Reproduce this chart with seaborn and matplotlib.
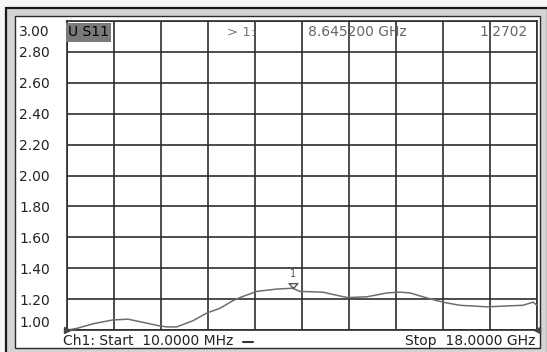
import numpy as np
import pandas as pd
import matplotlib
matplotlib.use("Agg")
import matplotlib.pyplot as plt
from matplotlib.patches import Rectangle
from matplotlib.lines import Line2D
from matplotlib.transforms import ScaledTranslation
import seaborn as sns

# ---- data ----
freq_ghz = [0.01, 0.38, 1.00, 1.76, 2.34, 2.91, 3.45, 3.83, 4.21, 4.83, 5.36, 5.86,
            6.36, 6.63, 7.28, 8.04, 8.645, 8.92, 9.80, 10.46, 10.76, 11.49, 12.26,
            12.75, 13.14, 13.63, 14.17, 14.55, 15.05, 16.09, 17.46, 17.85, 18.0]
s11_vswr = [1.00, 1.01, 1.04, 1.065, 1.07, 1.05, 1.03, 1.02, 1.02, 1.06, 1.11, 1.14,
            1.19, 1.21, 1.25, 1.265, 1.2702, 1.25, 1.245, 1.22, 1.21, 1.215, 1.24,
            1.245, 1.24, 1.215, 1.19, 1.175, 1.16, 1.15, 1.16, 1.18, 1.16]
y_ticks = [1.00, 1.20, 1.40, 1.60, 1.80, 2.00, 2.20, 2.40, 2.60, 2.80, 3.00]
y_tick_labels = ["1.00", "1.20", "1.40", "1.60", "1.80", "2.00", "2.20", "2.40",
                 "2.60", "2.80", "3.00"]
start_freq = 0.01   # GHz
stop_freq = 18.0    # GHz
marker_freq = 8.6452
marker_val = 1.2702
trace_name = "U S11"

df = pd.DataFrame({"freq": freq_ghz, "vswr": s11_vswr})

W, H = 547, 352
sns.set_theme(style="white")
plt.rcParams['font.family'] = ['DejaVu Sans']
fig = plt.figure(figsize=(W / 100, H / 100), dpi=100)
fig.patch.set_facecolor("#f6f6f6")

def fr(x0, y0, x1, y1):
    return (x0 / W, 1 - y1 / H, (x1 - x0) / W, (y1 - y0) / H)

# window frame
bx, by, bw, bh = fr(6, 8, 548, 356)
fig.patches.append(Rectangle((bx, by), bw, bh, transform=fig.transFigure,
                             facecolor="#d4d4d4", edgecolor="#1a1a1a", linewidth=1.6, zorder=-2))
bx, by, bw, bh = fr(15, 16, 540, 348)
fig.patches.append(Rectangle((bx, by), bw, bh, transform=fig.transFigure,
                             facecolor="white", edgecolor="#2a2a2a", linewidth=1.0, zorder=-1))

ax = fig.add_axes([67 / W, 1 - 330 / H, 470 / W, 309 / H])
ax.set_zorder(5)
ax.set_facecolor("white")

sns.lineplot(data=df, x="freq", y="vswr", ax=ax, color="#6e6e6e", linewidth=1.1,
             estimator=None, sort=False, legend=False, zorder=3)

ax.set_xlim(start_freq, stop_freq)
ax.set_ylim(1.0, 3.0)
ax.set_xticks(np.linspace(start_freq, stop_freq, 11))
ax.set_xticklabels([])
ax.set_yticks(y_ticks, y_tick_labels)
ax.set_xlabel("")
ax.set_ylabel("")
ax.grid(True, color="#2e2e2e", linewidth=1.2)
for sp in ax.spines.values():
    sp.set_color("#2e2e2e")
    sp.set_linewidth(1.2)
ax.tick_params(axis="both", length=0)
ax.tick_params(axis="y", pad=(67 - 19) * 0.72, labelsize=10, labelcolor="#222222")
for lab in ax.get_yticklabels():
    lab.set_horizontalalignment("left")
labs = ax.get_yticklabels()
labs[0].set_verticalalignment("bottom")
labs[-1].set_verticalalignment("top")
labs[-1].set_transform(labs[-1].get_transform() +
                       ScaledTranslation(0, -4 / 100, fig.dpi_scale_trans))

# trace name box
ax.text(0.003, 0.963, trace_name, transform=ax.transAxes, fontsize=10, color="black",
        va="center", ha="left",
        bbox=dict(boxstyle="square,pad=0.15", facecolor="#7a7a7a", edgecolor="none"))
# marker readout
top_y = 0.963
ax.text(188 / 470, top_y, "> 1:", transform=ax.transAxes, fontsize=9.5, color="#777777",
        ha="right", va="center")
ax.text(241 / 470, top_y, f"{marker_freq:.6f} GHz", transform=ax.transAxes, fontsize=10,
        color="#666666", ha="left", va="center")
ax.text(461 / 470, top_y, f"{marker_val:.4f}", transform=ax.transAxes, fontsize=10,
        color="#666666", ha="right", va="center")

# marker 1 triangle (tip on trace)
tri = [(0, 0), (-1.0, 1.1), (1.0, 1.1), (0, 0)]
ax.plot([marker_freq], [marker_val], marker=tri, markersize=7, markerfacecolor="none",
        markeredgecolor="#555555", markeredgewidth=1.0, linestyle="none", zorder=4)
ax.annotate("1", (marker_freq, marker_val), xytext=(0, 10), textcoords="offset points",
            fontsize=7, color="#555555", ha="center", va="center")

# reference position arrows at both ends of 1.00 line
ax.plot([start_freq], [1.0], marker=">", markersize=5, color="#444444",
        clip_on=False, zorder=4)
ax.plot([stop_freq], [1.0], marker="<", markersize=5, color="#444444",
        clip_on=False, zorder=4)

# bottom annotations
fig.text(63 / W, 1 - 341 / H, f"Ch1: Start  {start_freq * 1000:.4f} MHz", fontsize=10,
         color="#222222", ha="left", va="center")
fig.lines.append(Line2D([243 / W, 253 / W], [1 - 342 / H, 1 - 342 / H],
                        transform=fig.transFigure, color="#333333", linewidth=1.5))
fig.text(535 / W, 1 - 341 / H, f"Stop  {stop_freq:.4f} GHz", fontsize=10,
         color="#222222", ha="right", va="center")

fig.savefig("out.png", dpi=100, facecolor=fig.get_facecolor())
